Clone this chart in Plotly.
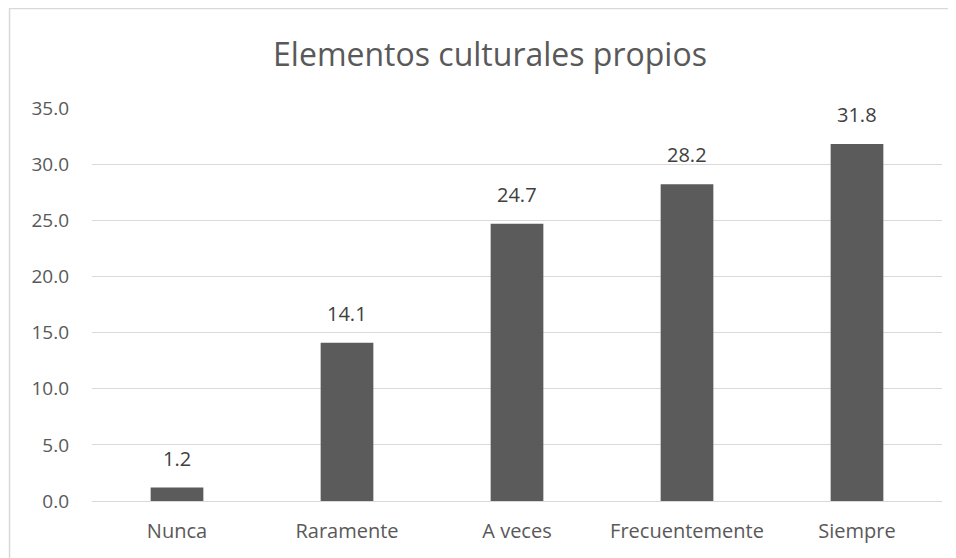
import plotly.graph_objects as go

# Chart data
categories = ['Nunca', 'Raramente', 'A veces', 'Frecuentemente', 'Siempre']
values = [1.2, 14.1, 24.7, 28.2, 31.8]
y_ticks = [0, 5, 10, 15, 20, 25, 30, 35]


def main():
    text_color = '#595959'
    font_name = 'Open Sans'

    fig = go.Figure(go.Bar(
        x=categories,
        y=values,
        marker_color='#5b5b5b',
        marker_line_width=0,
        cliponaxis=False,
    ))

    # Data labels, lifted a bit above each bar like the Excel original
    for cat, val in zip(categories, values):
        fig.add_annotation(
            x=cat, y=val,
            text='{:.1f}'.format(val),
            showarrow=False,
            yanchor='bottom',
            yshift=14,
            font=dict(family=font_name, size=20, color='#404040'),
        )

    # Light frame around the chart area (left and top edges visible)
    fig.add_shape(
        type='path',
        xref='paper', yref='paper',
        path='M -0.097,-0.2 L -0.097,1.253 L 1.1,1.253',
        line=dict(color='#d9d9d9', width=1.5),
    )

    fig.update_layout(
        width=956, height=558,
        margin=dict(l=84, r=22, t=100, b=65),
        paper_bgcolor='white',
        plot_bgcolor='white',
        bargap=0.69,
        showlegend=False,
        title=dict(
            text='Elementos culturales propios',
            x=482 / 956, xanchor='center', xref='container',
            y=1 - 47 / 558, yanchor='middle',
            font=dict(family=font_name, size=32, color=text_color),
        ),
        font=dict(family=font_name, color=text_color),
    )
    fig.update_yaxes(
        range=[0, 35],
        tickvals=y_ticks,
        tickformat='.1f',
        showgrid=True, gridcolor='#d9d9d9', gridwidth=1,
        zeroline=True, zerolinecolor='#d9d9d9', zerolinewidth=1,
        showline=False,
        ticklabelstandoff=22,
        tickfont=dict(family=font_name, size=19, color=text_color),
    )
    fig.update_xaxes(
        showline=False,
        showgrid=False,
        ticklabelstandoff=16,
        tickfont=dict(family=font_name, size=20, color=text_color),
    )

    fig.write_html('out.html')


if __name__ == '__main__':
    main()
